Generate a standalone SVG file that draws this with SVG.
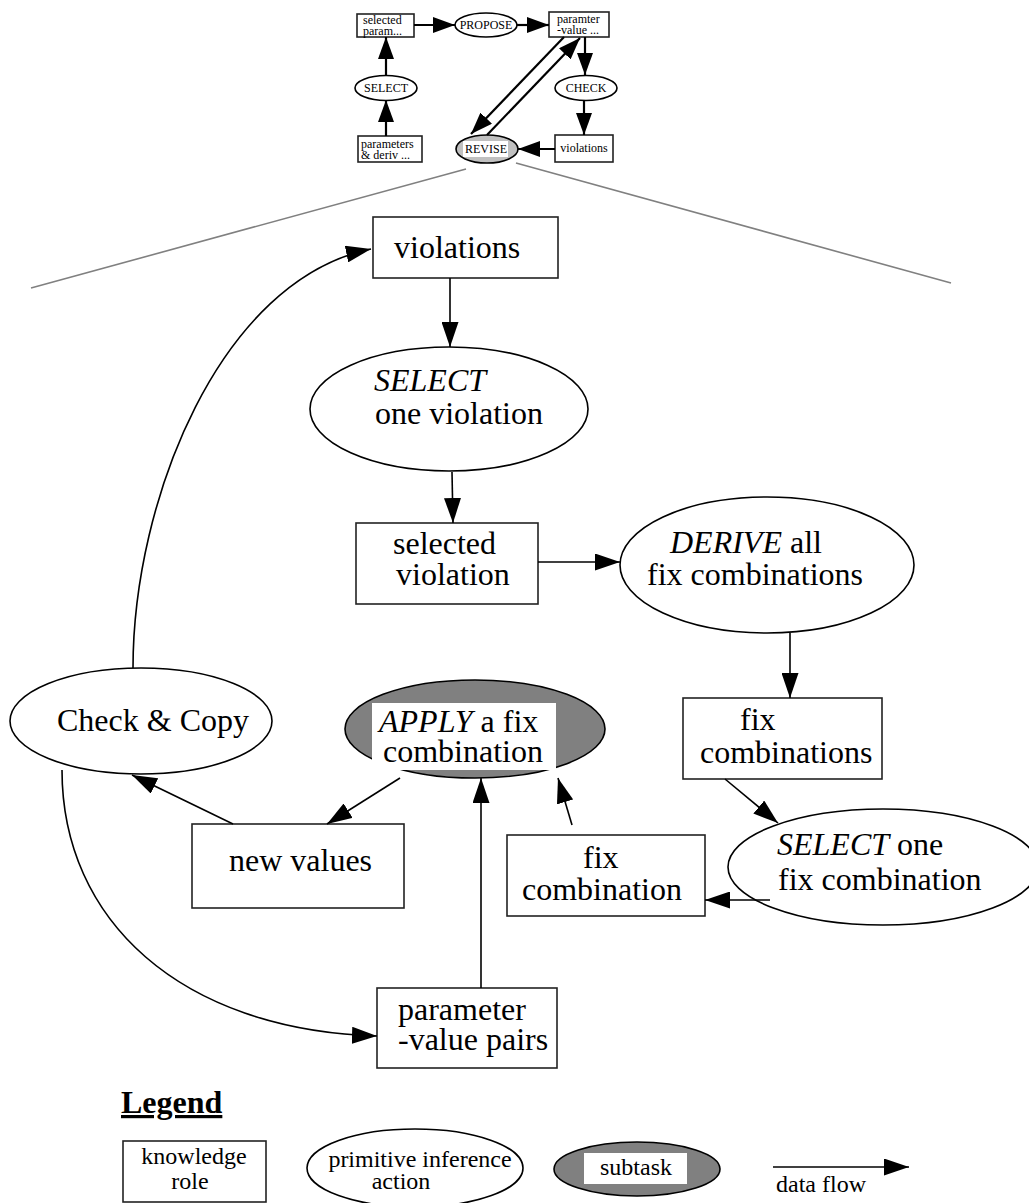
<svg xmlns="http://www.w3.org/2000/svg" width="1029" height="1203" viewBox="0 0 1029 1203">
  <style>
    text { font-family: "Liberation Serif", "Times New Roman", serif; fill: #000; }
    .big { font-size: 32px; }
    .sm { font-size: 12px; }
    .lg { font-size: 24px; }
    .it { font-style: italic; }
    .box { fill: #fff; stroke: #222; stroke-width: 1.6; }
    .ell { fill: #fff; stroke: #000; stroke-width: 1.6; }
    .sub { fill: #808080; stroke: #000; stroke-width: 1.6; }
    .rev { fill: #c0c0c0; stroke: #000; stroke-width: 1.6; }
    .hl { fill: #fff; }
    .edge { fill: none; stroke: #000; stroke-width: 1.6; }
    .tedge { fill: none; stroke: #000; stroke-width: 2.2; }
    .zoom { fill: none; stroke: #808080; stroke-width: 1.6; }
  </style>
  <defs>
    <marker id="ah" markerUnits="userSpaceOnUse" markerWidth="25" markerHeight="17" refX="25" refY="8.5" orient="auto">
      <path d="M0,0 L25,8.5 L0,17 z" fill="#000"/>
    </marker>
    <marker id="ahs" markerUnits="userSpaceOnUse" markerWidth="22" markerHeight="16" refX="22" refY="8" orient="auto">
      <path d="M0,0 L22,8 L0,16 z" fill="#000"/>
    </marker>
  </defs>

  <!-- overview of the whole task -->
  <g id="ov-selected-param">
    <rect class="box" x="357" y="14" width="57" height="23"/>
    <text class="sm" x="363" y="24">selected</text>
    <text class="sm" x="363" y="35">param...</text>
  </g>
  <g id="ov-propose">
    <ellipse class="ell" cx="486" cy="25" rx="31" ry="12"/>
    <text class="sm" x="486" y="29" text-anchor="middle">PROPOSE</text>
  </g>
  <g id="ov-paramter">
    <rect class="box" x="549" y="12" width="60" height="25"/>
    <text class="sm" x="557" y="23">paramter</text>
    <text class="sm" x="557" y="34">-value ...</text>
  </g>
  <g id="ov-select">
    <ellipse class="ell" cx="386" cy="88" rx="31" ry="12.5"/>
    <text class="sm" x="386" y="92" text-anchor="middle">SELECT</text>
  </g>
  <g id="ov-check">
    <ellipse class="ell" cx="586" cy="88" rx="31" ry="12.5"/>
    <text class="sm" x="586" y="92" text-anchor="middle">CHECK</text>
  </g>
  <g id="ov-parameters">
    <rect class="box" x="358" y="136" width="64" height="26"/>
    <text class="sm" x="361" y="148">parameters</text>
    <text class="sm" x="361" y="159">&amp; deriv ...</text>
  </g>
  <g id="ov-revise">
    <ellipse class="rev" cx="487" cy="149" rx="31" ry="14"/>
    <rect class="hl" x="463" y="141" width="45" height="16"/>
    <text class="sm" x="486" y="153" text-anchor="middle">REVISE</text>
  </g>
  <g id="ov-violations">
    <rect class="box" x="555" y="135" width="58" height="27"/>
    <text class="sm" x="584" y="152" text-anchor="middle">violations</text>
  </g>

  <!-- zoom lines from REVISE to its expansion -->
  <g id="zoom-lines">
    <line class="zoom" x1="466" y1="169" x2="31" y2="288"/>
    <line class="zoom" x1="516" y1="163" x2="951" y2="283"/>
  </g>

  <!-- expansion of REVISE -->
  <g id="violations">
    <rect class="box" x="373" y="217" width="185" height="61"/>
    <text class="big" x="394" y="258">violations</text>
  </g>
  <g id="select-one-violation">
    <ellipse class="ell" cx="449" cy="409" rx="139" ry="62"/>
    <text class="big it" x="374" y="391">SELECT</text>
    <text class="big" x="375" y="424">one violation</text>
  </g>
  <g id="selected-violation">
    <rect class="box" x="356" y="523" width="182" height="81"/>
    <text class="big" x="393" y="554">selected</text>
    <text class="big" x="396" y="585">violation</text>
  </g>
  <g id="derive">
    <ellipse class="ell" cx="767" cy="565" rx="147" ry="68"/>
    <text class="big" x="670" y="553"><tspan class="it">DERIVE</tspan> all</text>
    <text class="big" x="647" y="585">fix combinations</text>
  </g>
  <g id="fix-combinations">
    <rect class="box" x="683" y="698" width="199" height="81"/>
    <text class="big" x="740" y="730">fix</text>
    <text class="big" x="700" y="763">combinations</text>
  </g>
  <g id="select-one-fix">
    <ellipse class="ell" cx="883" cy="867" rx="155" ry="58"/>
    <text class="big" x="777" y="855"><tspan class="it">SELECT</tspan> one</text>
    <text class="big" x="778" y="890">fix combination</text>
  </g>
  <g id="fix-combination">
    <rect class="box" x="507" y="835" width="198" height="81"/>
    <text class="big" x="583" y="868">fix</text>
    <text class="big" x="522" y="900">combination</text>
  </g>
  <g id="apply">
    <ellipse class="sub" cx="475" cy="729" rx="130" ry="49"/>
    <rect class="hl" x="372" y="703" width="184" height="67"/>
    <text class="big" x="379" y="732"><tspan class="it">APPLY</tspan> a fix</text>
    <text class="big" x="383" y="762">combination</text>
  </g>
  <g id="check-copy">
    <ellipse class="ell" cx="141" cy="721" rx="131" ry="53"/>
    <text class="big" x="57" y="731">Check &amp; Copy</text>
  </g>
  <g id="new-values">
    <rect class="box" x="192" y="824" width="212" height="84"/>
    <text class="big" x="229" y="871">new values</text>
  </g>
  <g id="parameter-value-pairs">
    <rect class="box" x="377" y="988" width="180" height="80"/>
    <text class="big" x="398" y="1020">parameter</text>
    <text class="big" x="398" y="1050">-value pairs</text>
  </g>

  <!-- data flow -->
  <g id="connectors">
    <line class="tedge" x1="414" y1="25" x2="455" y2="25" marker-end="url(#ahs)"/>
    <line class="tedge" x1="517" y1="25" x2="549" y2="25" marker-end="url(#ahs)"/>
    <line class="tedge" x1="386" y1="75" x2="386" y2="37" marker-end="url(#ahs)"/>
    <line class="tedge" x1="386" y1="136" x2="386" y2="100" marker-end="url(#ahs)"/>
    <line class="tedge" x1="585" y1="37" x2="585" y2="75" marker-end="url(#ahs)"/>
    <line class="tedge" x1="584" y1="100" x2="584" y2="135" marker-end="url(#ahs)"/>
    <line class="tedge" x1="555" y1="149" x2="518" y2="149" marker-end="url(#ahs)"/>
    <line class="tedge" x1="564" y1="37" x2="471" y2="134" marker-end="url(#ahs)"/>
    <line class="tedge" x1="487" y1="135" x2="580" y2="38" marker-end="url(#ahs)"/>

    <line class="edge" x1="450" y1="278" x2="450" y2="347" marker-end="url(#ah)"/>
    <line class="edge" x1="452" y1="472" x2="453" y2="523" marker-end="url(#ah)"/>
    <line class="edge" x1="538" y1="562" x2="620" y2="562" marker-end="url(#ah)"/>
    <line class="edge" x1="790" y1="633" x2="790" y2="698" marker-end="url(#ah)"/>
    <line class="edge" x1="725" y1="779" x2="778" y2="823" marker-end="url(#ah)"/>
    <line class="edge" x1="770" y1="900" x2="705" y2="900" marker-end="url(#ah)"/>
    <line class="edge" x1="572" y1="825" x2="558" y2="778" marker-end="url(#ah)"/>
    <line class="edge" x1="481" y1="988" x2="481" y2="778" marker-end="url(#ah)"/>
    <line class="edge" x1="400" y1="778" x2="327" y2="824" marker-end="url(#ah)"/>
    <line class="edge" x1="233" y1="824" x2="132" y2="775" marker-end="url(#ah)"/>
    <path class="edge" d="M133,668 C133,500 220,280 371,249" marker-end="url(#ah)"/>
    <path class="edge" d="M62,770 C62,920 180,1030 377,1036" marker-end="url(#ah)"/>
  </g>

  <!-- legend -->
  <g id="legend">
    <text x="121" y="1113" font-size="32" font-weight="bold" text-decoration="underline">Legend</text>
    <g id="legend-role">
      <rect class="box" x="123" y="1141" width="143" height="61"/>
      <text class="lg" x="194" y="1164" text-anchor="middle">knowledge</text>
      <text class="lg" x="190" y="1189" text-anchor="middle">role</text>
    </g>
    <g id="legend-inference">
      <ellipse class="ell" cx="415" cy="1168" rx="108" ry="39"/>
      <text class="lg" x="420" y="1167" text-anchor="middle">primitive inference</text>
      <text class="lg" x="401" y="1189" text-anchor="middle">action</text>
    </g>
    <g id="legend-subtask">
      <ellipse class="sub" cx="637" cy="1169" rx="83" ry="27"/>
      <rect class="hl" x="584" y="1153" width="103" height="31"/>
      <text class="lg" x="636" y="1175" text-anchor="middle">subtask</text>
    </g>
    <g id="legend-flow">
      <line class="edge" x1="773" y1="1167" x2="909" y2="1167" marker-end="url(#ah)"/>
      <text class="lg" x="776" y="1192">data flow</text>
    </g>
  </g>
</svg>
